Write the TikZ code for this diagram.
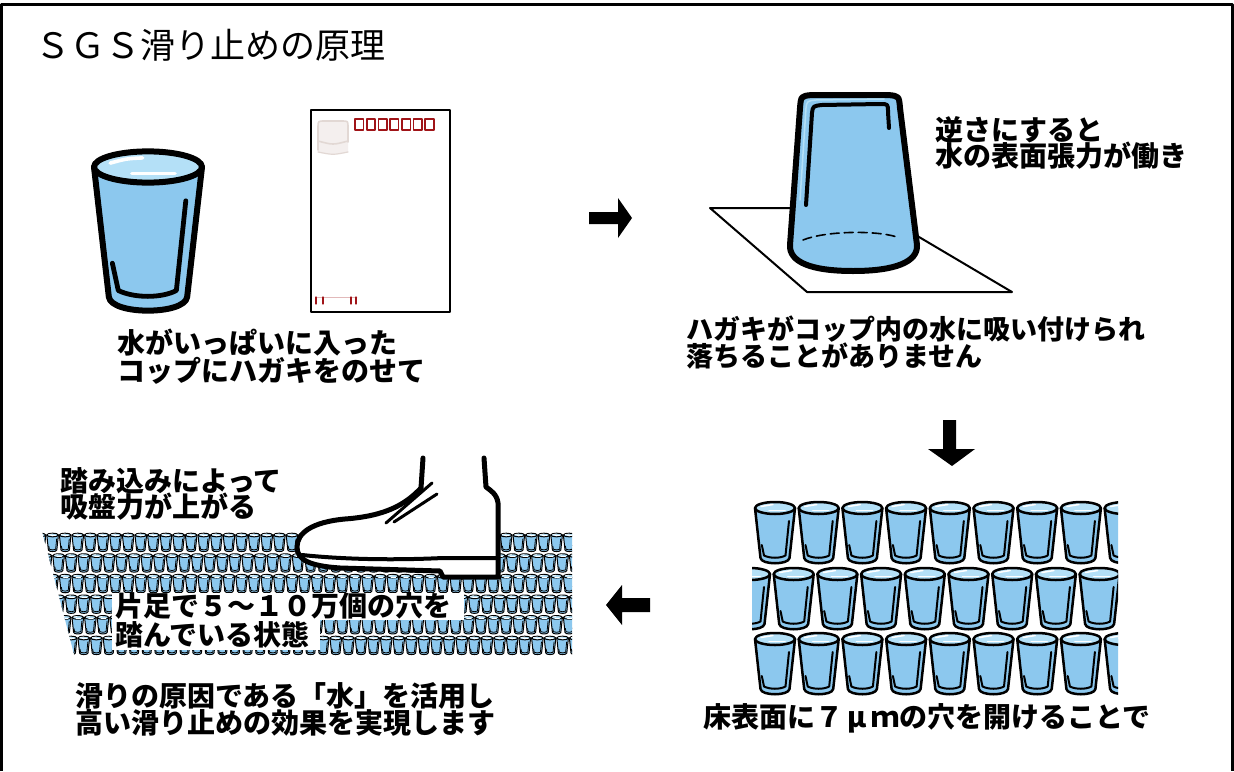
\documentclass[tikz,border=0pt]{standalone}
\usepackage{fontspec}
\newfontfamily\jp{Noto Sans CJK JP}
\definecolor{water}{RGB}{140,200,238}
\definecolor{rim}{RGB}{180,224,247}
\definecolor{stampred}{RGB}{160,20,24}
\definecolor{ghost}{RGB}{226,216,212}
% one glass of water: centre of rim, x scale, y scale, outline width
\newcommand\glassat[5]{%
  \begin{scope}[shift={(#1,#2)},xscale=#3,yscale=#4]
    \path[fill=water] (-20,0) -- (-14.5,50) .. controls (-13.5,57) and (13.5,57) .. (14.5,50) -- (20,0) -- cycle;
    \draw[line width=#5] (-20,0) -- (-14.5,50) .. controls (-13.5,57) and (13.5,57) .. (14.5,50) -- (20,0);
    \draw[line width=#5*0.8] (14,13) -- (10.5,47.5) .. controls (5,50.5) and (-5,50.5) .. (-11,47.5) -- (-13.2,37);
    \filldraw[fill=rim, line width=#5] (0,0) ellipse [x radius=20, y radius=6];
    \draw[white, line width=#5*0.6] (-14,-1.5) .. controls (-8,-3.2) .. (-2,-3.5);
    \draw[white, line width=#5*0.6] (-6,2.5) -- (10,2.5);
  \end{scope}}
\begin{document}
\begin{tikzpicture}[x=1pt,y=-1pt,line join=round,line cap=round,
  lbl/.style={font=\jp\bfseries\fontsize{28}{28}\selectfont,inner sep=0pt,anchor=base west},
  lblsmall/.style={font=\jp\bfseries\fontsize{27}{27}\selectfont,inner sep=0pt,anchor=base west},
  blockarrow/.style={fill=black}]
\useasboundingbox (0,0) rectangle (1234,771);
\fill[white] (0,0) rectangle (1234,771);

% frame, open at the bottom
\draw[line width=3,line cap=butt] (1.5,771) -- (1.5,4.5) -- (1232.5,4.5) -- (1232.5,771);

% title
\node[font=\jp\fontsize{35}{35}\selectfont,inner sep=0pt,anchor=base west] (title) at (35,58) {ＳＧＳ滑り止めの原理};

% ---- step 1: full glass and postcard
\glassat{148}{167}{2.7}{2.6}{6}
\draw[line width=2] (311,110) rectangle (450,312);
\foreach \i in {0,...,6}
  \draw[stampred,line width=1.6] (355+\i*11.7,119) rectangle ++(8.5,11);
\fill[ghost!40] (318,152) -- (318,127) .. controls (318,121) .. (325,121) -- (342,121) .. controls (348,121) .. (348,127) -- (348,152) .. controls (333,155) .. (318,152) -- cycle;
\draw[ghost,line width=1.6] (318,150) -- (318,127) .. controls (318,121) .. (325,121) -- (342,121) .. controls (348,121) .. (348,127) -- (348,142);
\draw[ghost,line width=1.6] (318,141) .. controls (333,145) .. (348,141);
\draw[ghost,line width=1.2] (318,152) .. controls (333,155) .. (348,152);
\draw[stampred!30,line width=0.8] (316,297) -- (357,297);
\foreach \x in {316,323,351,356}
  \draw[stampred,line width=1.2] (\x,297) -- (\x,304);
\node[lbl] (c1a) at (117,353) {水がいっぱいに入った};
\node[lbl] (c1b) at (117,381) {コップにハガキをのせて};

% arrow to step 2
\fill[blockarrow] (589,212) -- (618,212) -- (618,198) -- (632,218) -- (618,238) -- (618,224) -- (589,224) -- cycle;

% ---- step 2: glass turned upside down on the card
\draw[line width=2] (710,208) -- (870,208) -- (1012,292) -- (807,292) -- cycle;
\path[fill=water] (790,245) -- (800,108) .. controls (801,96) .. (812,95) -- (888,95) .. controls (899,96) .. (900,108) -- (917,245) .. controls (918,262) and (895,271) .. (853,271) .. controls (811,271) and (789,262) .. (790,245) -- cycle;
\draw[line width=6] (790,245) -- (800,108) .. controls (801,96) .. (812,95) -- (888,95) .. controls (899,96) .. (900,108) -- (917,245) .. controls (918,262) and (895,271) .. (853,271) .. controls (811,271) and (789,262) .. (790,245) -- cycle;
\draw[rim,line width=1.5] (800,200) -- (806,108) .. controls (807,101) .. (816,100) -- (884,99);
\draw[line width=4] (806,205) -- (812,113) .. controls (813,106) .. (822,105) -- (880,104) .. controls (888,104) .. (888,112) -- (889,128);
\draw[line width=1.6,dash pattern=on 9pt off 5pt] (803,240) .. controls (825,231) and (875,230) .. (897,237);
\node[lbl] (c2a) at (935,140) {逆さにすると};
\node[lbl] (c2b) at (935,166) {水の表面張力が働き};
\node[lblsmall] (c3a) at (686,339) {ハガキがコップ内の水に吸い付けられ};
\node[lblsmall] (c3b) at (686,366) {落ちることがありません};

% arrow to step 3
\fill[blockarrow] (943,420) -- (956,420) -- (956,449) -- (975,449) -- (952,466) -- (928,449) -- (943,449) -- cycle;

% ---- step 3: rows of glasses standing for the holes
\begin{scope}
  \clip (752,495) rectangle (1118,696);
  \foreach \c in {0,...,8} {
    \glassat{775+\c*43.7}{508}{1}{1}{2.5}
    \glassat{750+\c*43.7}{574}{1}{1}{2.5}
    \glassat{775+\c*43.7}{639}{1}{1}{2.5}
  }
\end{scope}
\node[lbl] (c4) at (703,727) {床表面に７\makebox[28pt]{μ}ｍの穴を開けることで};

% arrow to step 4
\fill[blockarrow] (650,598) -- (622,598) -- (622,585) -- (606,605) -- (622,625) -- (622,612) -- (650,612) -- cycle;

% ---- step 4: shoe pressing on the holes
\begin{scope}
  \clip (42,531) -- (572,531) -- (572,658) -- (75,658) -- cycle;
  \foreach \r in {0,...,5} {
    \pgfmathsetmacro\yy{535+\r*20.6}
    \pgfmathsetmacro\off{mod(\r,2)*6}
    \foreach \c in {0,...,43} {
      \pgfmathsetmacro\xx{40+\off+\c*12.6}
      \glassat{\xx}{\yy}{0.29}{0.3}{1}
    }
  }
\end{scope}
% shoe
\path[fill=white] (423,458) -- (421,488) .. controls (405,505) and (385,516) .. (345,519) .. controls (312,522) and (297,533) .. (297,547) .. controls (297,560) and (310,566) .. (340,568) -- (440,571) -- (443,577) -- (498,577) -- (498,503) .. controls (497,494) and (490,490) .. (486,487) -- (484,458) -- cycle;
\draw[line width=5] (423,458) -- (421,488) .. controls (405,505) and (385,516) .. (345,519) .. controls (312,522) and (297,533) .. (297,547) .. controls (297,560) and (310,566) .. (340,568) -- (440,571) -- (443,577) -- (498,577) -- (498,503) .. controls (497,494) and (490,490) .. (486,487) -- (484,458);
\draw[line width=4] (302,555) .. controls (350,560) and (400,560) .. (443,558) -- (498,558);
\draw[line width=3] (432,483) -- (386,523);
\draw[line width=3] (437,494) -- (394,522);
\node[lbl] (c5a) at (60,491) {踏み込みによって};
\node[lbl] (c5b) at (60,517) {吸盤力が上がる};
\fill[white] (112,593) rectangle (464,620);
\fill[white] (112,620) rectangle (320,650);
\node[lbl] (c6a) at (115,616) {片足で５～１０万個の穴を};
\node[lbl] (c6b) at (115,645) {踏んでいる状態};
\node[lbl] (c7a) at (75,706) {滑りの原因である「水」を活用し};
\node[lbl] (c7b) at (75,733) {高い滑り止めの効果を実現します};
\end{tikzpicture}
\end{document}
